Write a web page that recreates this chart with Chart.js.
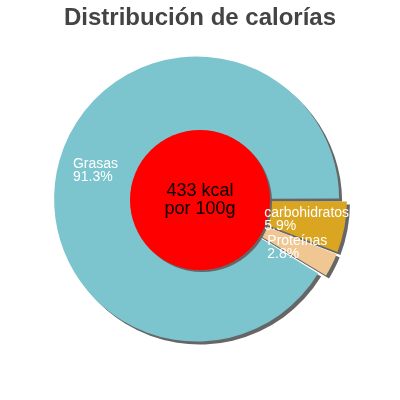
<!DOCTYPE html>
<html>
<head>
<meta charset="utf-8">
<script src="https://cdn.jsdelivr.net/npm/chart.js@4"></script>
<style>
html,body{margin:0;padding:0;background:#fff;}
#wrap{width:400px;height:400px;}
</style>
</head>
<body>
<div id="wrap"><canvas id="c" width="400" height="400"></canvas></div>
<script>
const titleText = 'Distribución de calorías';
const categories = ['Grasas', 'carbohidratos', 'Proteínas'];
const values = [91.3, 5.9, 2.8];
const colors = ['#7cc5ce', '#daa520', '#f0c792'];
const centerLines = ['433 kcal', 'por 100g'];

const FONT = '"Liberation Sans", Arial, Helvetica, sans-serif';
const total = values.reduce((a, b) => a + b, 0);
const startDeg = 90 + (values[1] + values[2]) / total * 360;
const HOLE = 0.5036;

const decor = {
  id: 'decor',
  beforeDatasetsDraw(chart) {
    const ctx = chart.ctx;
    ctx.save();
    ctx.shadowColor = '#666';
    ctx.shadowOffsetX = 3;
    ctx.shadowOffsetY = 3;
    ctx.shadowBlur = 0;
  },
  afterDatasetsDraw(chart) {
    const ctx = chart.ctx;
    ctx.restore();
    const meta = chart.getDatasetMeta(0);
    const a0 = meta.data[0];
    const cx = a0.x;
    const cy = a0.y;
    const r = a0.outerRadius * HOLE;
    // red centre disc with shadow
    ctx.save();
    ctx.shadowColor = '#666';
    ctx.shadowOffsetX = 2;
    ctx.shadowOffsetY = 2;
    ctx.beginPath();
    ctx.arc(cx, cy, r, 0, Math.PI * 2);
    ctx.fillStyle = '#ff0000';
    ctx.fill();
    ctx.restore();
    // centre text
    ctx.save();
    ctx.fillStyle = '#000';
    ctx.font = '18px ' + FONT;
    ctx.textAlign = 'center';
    ctx.textBaseline = 'middle';
    ctx.fillText(centerLines[0], cx, cy - 9);
    ctx.fillText(centerLines[1], cx, cy + 9);
    ctx.restore();
    // slice labels
    ctx.save();
    ctx.fillStyle = '#fff';
    ctx.font = '14px ' + FONT;
    ctx.textAlign = 'left';
    ctx.textBaseline = 'middle';
    meta.data.forEach((arc, i) => {
      const mid = (arc.startAngle + arc.endAngle) / 2;
      const rl = (r + arc.outerRadius) / 2 + 4;
      const px = cx + Math.cos(mid) * rl;
      const py = cy + Math.sin(mid) * rl;
      const l1 = categories[i];
      const l2 = values[i].toFixed(1) + '%';
      const w = Math.max(ctx.measureText(l1).width, ctx.measureText(l2).width);
      const x = px - w / 2;
      ctx.fillText(l1, x, py - 6.5);
      ctx.fillText(l2, x, py + 6.5);
    });
    ctx.restore();
  }
};

new Chart(document.getElementById('c'), {
  type: 'pie',
  data: {
    labels: categories,
    datasets: [{
      data: values,
      backgroundColor: colors,
      borderWidth: 0,
      offset: [14, 19.5, 17.5],
      hoverOffset: 0
    }]
  },
  options: {
    responsive: false,
    animation: false,
    rotation: startDeg,
    radius: 139,
    cutout: 0,
    layout: { padding: { top: 0, bottom: 36.8, left: 0, right: 0 } },
    events: [],
    plugins: {
      legend: { display: false },
      tooltip: { enabled: false },
      title: {
        display: true,
        text: titleText,
        color: '#444',
        font: { family: FONT, size: 24, weight: 'bold', lineHeight: 1.2 },
        padding: { top: 4, bottom: 4 }
      }
    }
  },
  plugins: [decor]
});
</script>
</body>
</html>
